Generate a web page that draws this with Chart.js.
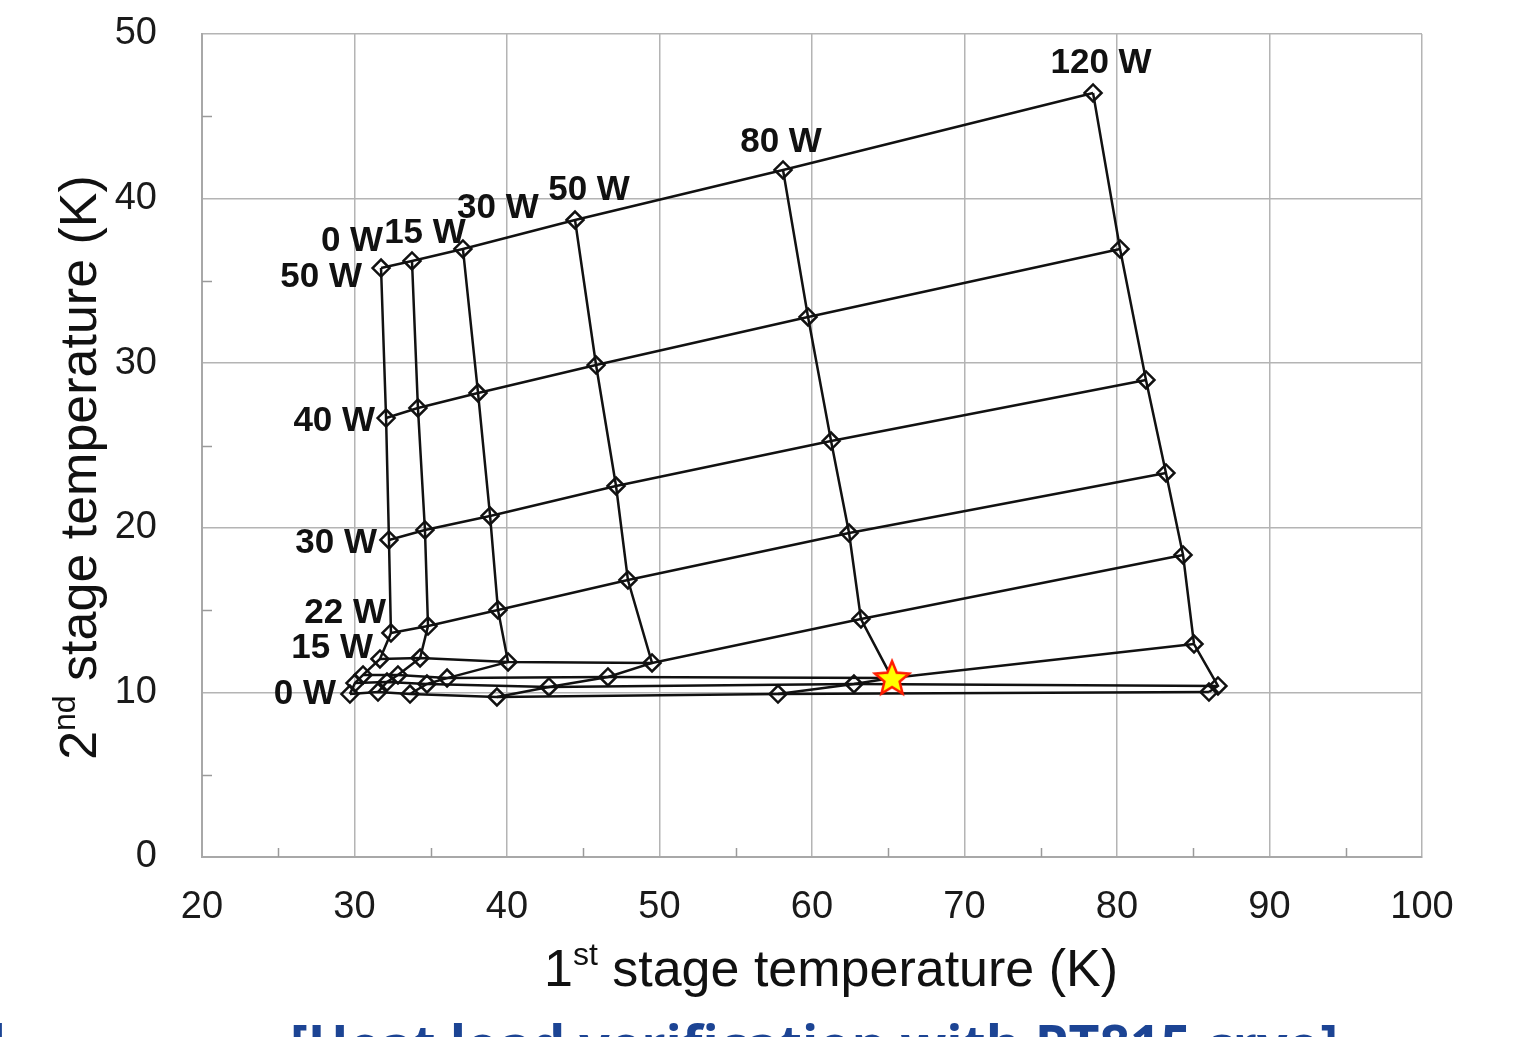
<!DOCTYPE html>
<html>
<head>
<meta charset="utf-8">
<title>Cryocooler load map</title>
<script src="https://cdn.jsdelivr.net/npm/chart.js@4.4.1/dist/chart.umd.min.js"></script>
<style>
  html, body { margin: 0; padding: 0; background: #fff; overflow: hidden; }
  #wrap { position: relative; width: 1527px; height: 1037px; }
</style>
</head>
<body>
<div id="wrap"><canvas id="loadmap"></canvas></div>
<script>
// heat loads: one curve per 1st stage load, one curve per 2nd stage load
const stage1Loads = ['0 W', '15 W', '30 W', '50 W', '80 W', '120 W'];
const stage2Loads = ['50 W', '40 W', '30 W', '22 W', '15 W', '', '', '0 W'];

// temperatures (K), ordered by 2nd stage load as above
const t1At0W   = [31.74, 32.07, 32.26, 32.39, 31.67, 30.56, 30.03, 29.70];
const t2At0W   = [35.78, 26.67, 19.26, 13.61, 12.03, 11.06, 10.57, 9.90];
const t1At15W  = [33.77, 34.16, 34.62, 34.82, 34.30, 32.85, 32.13, 31.54];
const t2At15W  = [36.21, 27.28, 19.87, 14.03, 12.09, 11.06, 10.63, 10.02];
const t1At30W  = [37.11, 38.10, 38.89, 39.41, 40.07, 36.07, 34.75, 33.64];
const t2At30W  = [36.94, 28.19, 20.72, 15.01, 11.85, 10.87, 10.51, 9.90];
const t1At50W  = [44.46, 45.84, 47.15, 47.93, 49.51, 46.62, 42.75, 39.34];
const t2At50W  = [38.70, 29.89, 22.54, 16.83, 11.79, 10.94, 10.33, 9.72];
const t1At80W  = [58.10, 59.74, 61.25, 62.43, 63.21, 65.25, 62.75, 57.77];
const t2At80W  = [41.74, 32.81, 25.27, 19.68, 14.46, 10.87, 10.51, 9.90];
const t1At120W = [78.43, 80.20, 81.90, 83.21, 84.33, 85.05, 86.62, 86.03];
const t2At120W = [46.42, 36.94, 28.98, 23.33, 18.35, 12.94, 10.39, 10.02];

// operating point (star)
const operatingPoint = [65.25, 10.87];

const t1Cols = [t1At0W, t1At15W, t1At30W, t1At50W, t1At80W, t1At120W];
const t2Cols = [t2At0W, t2At15W, t2At30W, t2At50W, t2At80W, t2At120W];

const INK = '#111';

// star marker as an image point style
function makeStar(outer, inner) {
  const c = document.createElement('canvas');
  const s = Math.ceil(outer * 2 + 6);
  c.width = s; c.height = s;
  const g = c.getContext('2d');
  g.translate(s / 2, s / 2 + 1);
  g.beginPath();
  for (let i = 0; i < 10; i++) {
    const r = i % 2 === 0 ? outer : inner;
    const a = -Math.PI / 2 + i * Math.PI / 5;
    if (i === 0) g.moveTo(r * Math.cos(a), r * Math.sin(a));
    else g.lineTo(r * Math.cos(a), r * Math.sin(a));
  }
  g.closePath();
  g.fillStyle = '#ffff00';
  g.fill();
  g.lineWidth = 2.5;
  g.strokeStyle = '#ff1a00';
  g.lineJoin = 'miter';
  g.stroke();
  return c;
}

const datasets = [];

datasets.push({
  label: 'operating point',
  data: [{ x: operatingPoint[0], y: operatingPoint[1] }],
  showLine: false,
  pointStyle: makeStar(18, 8),
  order: 0
});

// constant 1st stage load curves (carry the markers)
stage1Loads.forEach(function(name, c) {
  datasets.push({
    label: '1st ' + name,
    data: t1Cols[c].map(function(t1, r) { return { x: t1, y: t2Cols[c][r] }; }),
    showLine: true,
    borderColor: INK,
    borderWidth: 2.5,
    pointStyle: 'rectRot',
    pointRadius: 8.5,
    pointBorderWidth: 2.5,
    pointBorderColor: INK,
    pointBackgroundColor: 'rgba(255,255,255,0)',
    order: 2
  });
});

// constant 2nd stage load curves
stage2Loads.forEach(function(name, r) {
  datasets.push({
    label: '2nd ' + r,
    data: t1Cols.map(function(col, c) { return { x: col[r], y: t2Cols[c][r] }; }),
    showLine: true,
    borderColor: INK,
    borderWidth: 2.5,
    pointRadius: 0,
    order: 2
  });
});

// label placement relative to the first point of each curve
const colLabelOffsets = [[-29, -27], [13, -28], [35, -41], [14, -30], [-2, -28], [8, -30]];
const rowLabelOffsets = [[-19, 9], [-11, 3], [-12, 3], [-5, -20], [-7, -11], null, null, [-14, 0]];

function drawParts(ctx, parts, size, x, y) {
  // parts drawn centred on x, baseline y
  const supSize = Math.round(size * 0.62);
  let total = 0;
  parts.forEach(function(p) {
    ctx.font = (p.sup ? supSize : size) + 'px "Liberation Sans", Arial, sans-serif';
    p.w = ctx.measureText(p.t).width;
    total += p.w;
  });
  let cx = x - total / 2;
  parts.forEach(function(p) {
    ctx.font = (p.sup ? supSize : size) + 'px "Liberation Sans", Arial, sans-serif';
    ctx.fillText(p.t, cx, p.sup ? y - size * 0.4 : y);
    cx += p.w;
  });
}

const decor = {
  id: 'decor',
  afterDraw: function(chart) {
    const ctx = chart.ctx;
    const xs = chart.scales.x, ys = chart.scales.y;
    const area = chart.chartArea;

    // minor ticks inside the plot
    ctx.save();
    ctx.strokeStyle = '#9a9a9a';
    ctx.lineWidth = 1.5;
    ctx.beginPath();
    for (let v = xs.min + 5; v < xs.max; v += 10) {
      const px = Math.round(xs.getPixelForValue(v)) + 0.5;
      ctx.moveTo(px, area.bottom);
      ctx.lineTo(px, area.bottom - 9);
    }
    for (let v = ys.min + 5; v < ys.max; v += 10) {
      const py = Math.round(ys.getPixelForValue(v)) + 0.5;
      ctx.moveTo(area.left, py);
      ctx.lineTo(area.left + 10, py);
    }
    ctx.stroke();
    ctx.restore();

    // curve labels
    ctx.save();
    ctx.fillStyle = INK;
    ctx.font = 'bold 35px "Liberation Sans", Arial, sans-serif';
    ctx.textBaseline = 'middle';
    ctx.textAlign = 'center';
    stage1Loads.forEach(function(name, c) {
      const px = xs.getPixelForValue(t1Cols[c][0]);
      const py = ys.getPixelForValue(t2Cols[c][0]);
      ctx.fillText(name, px + colLabelOffsets[c][0], py + colLabelOffsets[c][1]);
    });
    ctx.textAlign = 'right';
    stage2Loads.forEach(function(name, r) {
      if (!name) return;
      const px = xs.getPixelForValue(t1Cols[0][r]);
      const py = ys.getPixelForValue(t2Cols[0][r]);
      ctx.fillText(name, px + rowLabelOffsets[r][0], py + rowLabelOffsets[r][1]);
    });
    ctx.restore();

    // axis titles with superscripts
    ctx.save();
    ctx.fillStyle = INK;
    ctx.textBaseline = 'alphabetic';
    ctx.textAlign = 'left';
    drawParts(ctx, [{ t: '1' }, { t: 'st', sup: true }, { t: ' stage temperature (K)' }],
      52, (area.left + area.right) / 2 + 19, 986);
    ctx.translate(96, (area.top + area.bottom) / 2 + 22);
    ctx.rotate(-Math.PI / 2);
    drawParts(ctx, [{ t: '2' }, { t: 'nd', sup: true }, { t: ' stage temperature (K)' }], 52, 0, 0);
    ctx.restore();

    // caption line, cut by the bottom edge
    ctx.save();
    ctx.fillStyle = '#1c4494';
    ctx.font = 'bold 53.5px "Open Sans", "Liberation Sans", sans-serif';
    ctx.textBaseline = 'alphabetic';
    ctx.textAlign = 'right';
    ctx.fillText('Thermal', 6, 1064);
    ctx.textAlign = 'left';
    ctx.fillText('[Heat load verification with PT815 cryo]', 290, 1064);
    ctx.restore();
  }
};

const tickFont = { family: '"Liberation Sans", Arial, sans-serif', size: 38 };

new Chart(document.getElementById('loadmap'), {
  type: 'scatter',
  data: { datasets: datasets },
  options: {
    responsive: true,
    maintainAspectRatio: false,
    animation: false,
    layout: { padding: { left: 0, top: 34, right: 105, bottom: 0 } },
    plugins: {
      legend: { display: false },
      tooltip: { enabled: false }
    },
    scales: {
      x: {
        type: 'linear',
        min: 20,
        max: 100,
        ticks: { stepSize: 10, color: '#1a1a1a', font: tickFont, padding: 5, maxRotation: 0 },
        grid: { color: '#b4b4b4', lineWidth: 1.5, drawTicks: true, tickLength: 23, tickColor: 'rgba(0,0,0,0)' },
        border: { color: '#a8a8a8', width: 2 },
        afterFit: function(s) { s.height = 180; }
      },
      y: {
        type: 'linear',
        min: 0,
        max: 50,
        ticks: { stepSize: 10, color: '#1a1a1a', font: tickFont, padding: 8 },
        grid: { color: '#b4b4b4', lineWidth: 1.5, drawTicks: true, tickLength: 37, tickColor: 'rgba(0,0,0,0)' },
        border: { color: '#a8a8a8', width: 2 },
        afterFit: function(s) { s.width = 202; }
      }
    }
  },
  plugins: [decor]
});
</script>
</body>
</html>
